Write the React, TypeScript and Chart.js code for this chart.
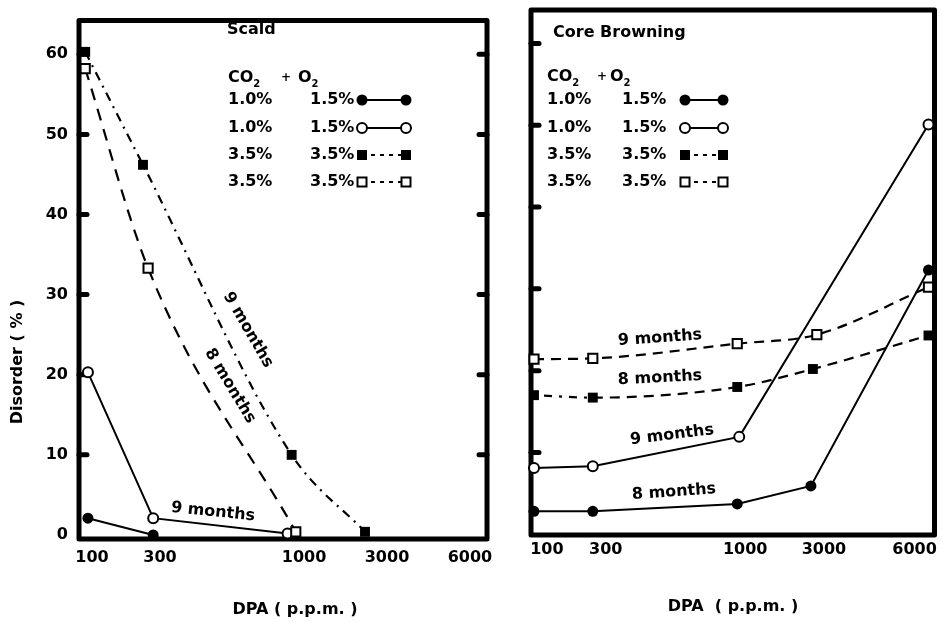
import React, { useEffect, useRef } from 'react';
import { Chart, registerables, LinearScale } from 'chart.js';

Chart.register(...registerables);

// ---------------- DATA ----------------
const DPA_TICKS = [100, 300, 1000, 3000, 6000];
const DISORDER_TICKS = [0, 10, 20, 30, 40, 50, 60];

// Scald panel (x = DPA p.p.m., y = disorder %)
const scaldFilledCircleX = [88, 280];
const scaldFilledCircleY = [2.1, 0.0];
const scaldOpenCircleX = [88, 280, 920];
const scaldOpenCircleY = [20.3, 2.1, 0.2];
const scaldFilledSquareX = [80, 250, 940, 2470];
const scaldFilledSquareY = [60.3, 46.2, 10.0, 0.4];
const scaldOpenSquareX = [80, 265, 960];
const scaldOpenSquareY = [58.2, 33.3, 0.4];

// Core browning panel
const coreFilledCircleX = [56, 256, 960, 2670, 6460];
const coreFilledCircleY = [2.8, 2.8, 3.7, 5.9, 32.3];
const coreOpenCircleX = [56, 256, 970, 6460];
const coreOpenCircleY = [8.1, 8.3, 11.9, 50.1];
const coreFilledSquareX = [56, 256, 960, 2720, 6460];
const coreFilledSquareY = [17.0, 16.7, 18.0, 20.2, 24.3];
const coreOpenSquareX = [56, 256, 960, 2820, 6460];
const coreOpenSquareY = [21.4, 21.5, 23.3, 24.4, 30.2];

const legendCO2 = ['1.0%', '1.0%', '3.5%', '3.5%'];
const legendO2 = ['1.5%', '1.5%', '3.5%', '3.5%'];
const legendKinds = ['fc', 'oc', 'fs', 'os'];

const FAM = "'DejaVu Sans', 'Liberation Sans', sans-serif";
const BLACK = '#000';

// ------------- custom piecewise DPA scale -------------
function makeAnchorScale(id: string, values: number[], fracs: number[]) {
  return class extends LinearScale {
    static id = id;
    static defaults = {};
    buildTicks() {
      (this as any).start = (this as any).min;
      (this as any).end = (this as any).max;
      return values.map((v) => ({ value: v }));
    }
    getPixelForValue(value: number) {
      const n = values.length;
      let i = 0;
      if (value >= values[n - 1]) i = n - 2;
      else if (value > values[0]) {
        while (value > values[i + 1]) i++;
      }
      const f = fracs[i] + ((value - values[i]) * (fracs[i + 1] - fracs[i])) / (values[i + 1] - values[i]);
      return (this as any).getPixelForDecimal(f);
    }
    getValueForPixel(pixel: number) {
      const f = (this as any).getDecimalForPixel(pixel);
      const n = fracs.length;
      let i = 0;
      if (f >= fracs[n - 1]) i = n - 2;
      else if (f > fracs[0]) {
        while (f > fracs[i + 1]) i++;
      }
      return values[i] + ((f - fracs[i]) * (values[i + 1] - values[i])) / (fracs[i + 1] - fracs[i]);
    }
  };
}

const ScaldScale = makeAnchorScale('dpaScald', DPA_TICKS, [0.0319, 0.1985, 0.5515, 0.7549, 0.9583]);
const CoreScale = makeAnchorScale('dpaCore', DPA_TICKS, [0.0395, 0.1852, 0.5309, 0.7259, 0.9506]);
Chart.register(ScaldScale as any, CoreScale as any);

// ------------- drawing helpers -------------
function drawMarker(ctx: CanvasRenderingContext2D, kind: string, x: number, y: number) {
  ctx.save();
  ctx.setLineDash([]);
  ctx.lineWidth = 2;
  ctx.strokeStyle = BLACK;
  ctx.fillStyle = BLACK;
  if (kind === 'fc') {
    ctx.beginPath();
    ctx.arc(x, y, 5.5, 0, Math.PI * 2);
    ctx.fill();
  } else if (kind === 'oc') {
    ctx.beginPath();
    ctx.arc(x, y, 5, 0, Math.PI * 2);
    ctx.fillStyle = '#fff';
    ctx.fill();
    ctx.stroke();
  } else if (kind === 'fs') {
    ctx.fillRect(x - 5, y - 5, 10, 10);
  } else {
    ctx.fillStyle = '#fff';
    ctx.fillRect(x - 4.5, y - 4.5, 9, 9);
    ctx.strokeRect(x - 4.5, y - 4.5, 9, 9);
  }
  ctx.restore();
}

function font(size: number) {
  return `bold ${size}px ${FAM}`;
}

function drawSub(ctx: CanvasRenderingContext2D, base: string, sub: string, x: number, y: number) {
  ctx.font = font(16);
  ctx.textAlign = 'left';
  ctx.textBaseline = 'middle';
  ctx.fillText(base, x, y);
  const w = ctx.measureText(base).width;
  ctx.font = font(10);
  ctx.fillText(sub, x + w, y + 6);
}

type LabelSpec = { t: string; x: number; y: number; r: number };
type PanelSpec = {
  title: string;
  titleDx: number;
  titleY: number;
  co2Dx: number;
  plusDx: number;
  o2Dx: number;
  headerY: number;
  col1Dx: number;
  col2Dx: number;
  lineDx1: number;
  lineDx2: number;
  rowY: number[];
  stubsRight: boolean;
  curveLabels: LabelSpec[];
  xTitle: string;
  xTitleX: number;
  xTitleY: number;
  yTitle?: { t: string; x: number; y: number };
};

function panelPlugin(spec: PanelSpec) {
  return {
    id: 'panelDecor',
    beforeDatasetsDraw(chart: any) {
      const { ctx, chartArea: a } = chart;
      const y = chart.scales.y;
      ctx.save();
      ctx.strokeStyle = BLACK;
      ctx.lineWidth = 5;
      ctx.lineJoin = 'round';
      ctx.strokeRect(a.left, a.top, a.right - a.left, a.bottom - a.top);
      ctx.lineCap = 'round';
      ctx.lineWidth = 5;
      for (const v of DISORDER_TICKS) {
        if (v === 0) continue;
        const py = y.getPixelForValue(v);
        ctx.beginPath();
        ctx.moveTo(a.left, py);
        ctx.lineTo(a.left + 8, py);
        ctx.stroke();
        if (spec.stubsRight) {
          ctx.beginPath();
          ctx.moveTo(a.right - 8, py);
          ctx.lineTo(a.right, py);
          ctx.stroke();
        }
      }
      ctx.restore();
    },
    afterDraw(chart: any) {
      const { ctx, chartArea: a } = chart;
      const L = a.left;
      ctx.save();
      ctx.fillStyle = BLACK;
      ctx.strokeStyle = BLACK;
      // title
      ctx.font = font(16);
      ctx.textAlign = 'left';
      ctx.textBaseline = 'middle';
      ctx.fillText(spec.title, L + spec.titleDx, spec.titleY);
      // header
      drawSub(ctx, 'CO', '2', L + spec.co2Dx, spec.headerY);
      ctx.font = font(12);
      ctx.textBaseline = 'middle';
      ctx.fillText('+', L + spec.plusDx, spec.headerY);
      drawSub(ctx, 'O', '2', L + spec.o2Dx, spec.headerY);
      // rows
      for (let i = 0; i < legendKinds.length; i++) {
        const ry = spec.rowY[i];
        ctx.font = font(16);
        ctx.textAlign = 'left';
        ctx.textBaseline = 'middle';
        ctx.fillText(legendCO2[i], L + spec.col1Dx, ry);
        ctx.fillText(legendO2[i], L + spec.col2Dx, ry);
        const k = legendKinds[i];
        ctx.save();
        ctx.lineWidth = 2;
        ctx.setLineDash(k === 'fs' || k === 'os' ? [4, 5] : []);
        ctx.beginPath();
        ctx.moveTo(L + spec.lineDx1, ry);
        ctx.lineTo(L + spec.lineDx2, ry);
        ctx.stroke();
        ctx.restore();
        drawMarker(ctx, k, L + spec.lineDx1, ry);
        drawMarker(ctx, k, L + spec.lineDx2, ry);
      }
      // curve labels
      for (const c of spec.curveLabels) {
        ctx.save();
        ctx.translate(c.x, c.y);
        ctx.rotate((c.r * Math.PI) / 180);
        ctx.font = font(16);
        ctx.textAlign = 'center';
        ctx.textBaseline = 'middle';
        ctx.fillText(c.t, 0, 0);
        ctx.restore();
      }
      // axis titles
      ctx.font = font(16);
      ctx.textAlign = 'center';
      ctx.textBaseline = 'middle';
      ctx.fillText(spec.xTitle, spec.xTitleX, spec.xTitleY);
      if (spec.yTitle) {
        ctx.save();
        ctx.translate(spec.yTitle.x, spec.yTitle.y);
        ctx.rotate(-Math.PI / 2);
        ctx.fillText(spec.yTitle.t, 0, 0);
        ctx.restore();
      }
      ctx.restore();
    },
  };
}

function pts(xs: number[], ys: number[]) {
  return xs.map((x, i) => ({ x, y: ys[i] }));
}

function series(kind: string, xs: number[], ys: number[], extra: any = {}) {
  const base: any = {
    data: pts(xs, ys),
    borderColor: BLACK,
    borderWidth: 2,
    pointBorderColor: BLACK,
    pointBorderWidth: 2,
    clip: false,
    tension: 0,
    fill: false,
  };
  if (kind === 'fc') {
    Object.assign(base, { pointStyle: 'circle', pointRadius: 5.5, pointBackgroundColor: BLACK, pointBorderWidth: 0 });
  } else if (kind === 'oc') {
    Object.assign(base, { pointStyle: 'circle', pointRadius: 5, pointBackgroundColor: '#fff' });
  } else if (kind === 'fs') {
    Object.assign(base, { pointStyle: 'rect', pointRadius: 7, pointBackgroundColor: BLACK, pointBorderWidth: 0 });
  } else {
    Object.assign(base, { pointStyle: 'rect', pointRadius: 6.5, pointBackgroundColor: '#fff' });
  }
  return Object.assign(base, extra);
}

function buildConfig(opts: {
  xType: string;
  datasets: any[];
  yMin: number;
  yMax: number;
  yWidth: number;
  xHeight: number;
  padRight: number;
  showYLabels: boolean;
  xPad: number;
  spec: PanelSpec;
}): any {
  return {
    type: 'line',
    data: { datasets: opts.datasets },
    options: {
      animation: false,
      responsive: false,
      events: [],
      layout: { padding: { top: 10, right: opts.padRight, left: 0, bottom: 0 } },
      plugins: { legend: { display: false }, tooltip: { enabled: false } },
      scales: {
        x: {
          type: opts.xType,
          position: 'bottom',
          grid: { display: false, drawTicks: false },
          border: { display: false },
          ticks: {
            autoSkip: false,
            maxRotation: 0,
            minRotation: 0,
            padding: opts.xPad,
            color: BLACK,
            font: { family: FAM, size: 16, weight: 'bold' },
            callback: (v: any) => String(v),
          },
          afterFit: (s: any) => {
            s.height = opts.xHeight;
          },
        },
        y: {
          type: 'linear',
          min: opts.yMin,
          max: opts.yMax,
          grid: { display: false, drawTicks: false },
          border: { display: false },
          ticks: {
            display: opts.showYLabels,
            padding: 11,
            color: BLACK,
            font: { family: FAM, size: 16, weight: 'bold' },
            callback: (v: any) => String(v),
          },
          afterBuildTicks: (s: any) => {
            s.ticks = DISORDER_TICKS.map((v) => ({ value: v }));
          },
          afterFit: (s: any) => {
            s.width = opts.yWidth;
          },
        },
      },
    },
    plugins: [panelPlugin(opts.spec)],
  };
}

const ROWS = [100, 128, 155, 182];

const leftSpec: PanelSpec = {
  title: 'Scald',
  titleDx: 148,
  titleY: 30,
  co2Dx: 149,
  plusDx: 202,
  o2Dx: 219,
  headerY: 78,
  col1Dx: 149,
  col2Dx: 231,
  lineDx1: 283,
  lineDx2: 327,
  rowY: ROWS,
  stubsRight: true,
  curveLabels: [
    { t: '9 months', x: 248, y: 330, r: 60 },
    { t: '8 months', x: 230, y: 386, r: 59 },
    { t: '9 months', x: 213, y: 512, r: 6 },
  ],
  xTitle: 'DPA ( p.p.m. )',
  xTitleX: 295,
  xTitleY: 610,
  yTitle: { t: 'Disorder ( % )', x: 18, y: 362 },
};

const RX = 505;
const rightSpec: PanelSpec = {
  title: 'Core Browning',
  titleDx: 22,
  titleY: 33,
  co2Dx: 16,
  plusDx: 66,
  o2Dx: 79,
  headerY: 77,
  col1Dx: 16,
  col2Dx: 91,
  lineDx1: 154,
  lineDx2: 192,
  rowY: ROWS,
  stubsRight: false,
  curveLabels: [
    { t: '9 months', x: 660 - RX, y: 338, r: -4 },
    { t: '8 months', x: 660 - RX, y: 378, r: -3 },
    { t: '9 months', x: 672 - RX, y: 435, r: -7 },
    { t: '8 months', x: 674 - RX, y: 492, r: -4 },
  ],
  xTitle: 'DPA  ( p.p.m. )',
  xTitleX: 733 - RX,
  xTitleY: 607,
};

export default function App() {
  const leftRef = useRef<HTMLCanvasElement>(null);
  const rightRef = useRef<HTMLCanvasElement>(null);

  useEffect(() => {
    const left = new Chart(
      leftRef.current as HTMLCanvasElement,
      buildConfig({
        xType: 'dpaScald',
        datasets: [
          series('fs', scaldFilledSquareX, scaldFilledSquareY, {
            borderWidth: 2.2,
            borderDash: [9, 6, 2, 6],
            cubicInterpolationMode: 'monotone',
          }),
          series('os', scaldOpenSquareX, scaldOpenSquareY, {
            borderWidth: 2.2,
            borderDash: [12, 9],
            cubicInterpolationMode: 'monotone',
          }),
          series('oc', scaldOpenCircleX, scaldOpenCircleY),
          series('fc', scaldFilledCircleX, scaldFilledCircleY),
        ],
        yMin: -0.5,
        yMax: 64.2,
        yWidth: 79,
        xHeight: 83,
        padRight: 18,
        showYLabels: true,
        xPad: 9,
        spec: leftSpec,
      })
    );
    const right = new Chart(
      rightRef.current as HTMLCanvasElement,
      buildConfig({
        xType: 'dpaCore',
        datasets: [
          series('os', coreOpenSquareX, coreOpenSquareY, {
            borderWidth: 2.2,
            borderDash: [10, 7],
            cubicInterpolationMode: 'monotone',
          }),
          series('fs', coreFilledSquareX, coreFilledSquareY, {
            borderWidth: 2.2,
            borderDash: [10, 7],
            cubicInterpolationMode: 'monotone',
            segment: {
              borderDash: (c: any) => (c.p0DataIndex === 0 ? [3, 7, 8, 7] : undefined),
            },
          }),
          series('oc', coreOpenCircleX, coreOpenCircleY),
          series('fc', coreFilledCircleX, coreFilledCircleY),
        ],
        yMin: -0.1,
        yMax: 64.1,
        yWidth: 26,
        xHeight: 87,
        padRight: 7,
        showYLabels: false,
        xPad: 5,
        spec: rightSpec,
      })
    );
    return () => {
      left.destroy();
      right.destroy();
    };
  }, []);

  return (
    <div style={{ position: 'fixed', left: 0, top: 0, width: 943, height: 622, background: '#fff' }}>
      <canvas ref={leftRef} width={505} height={622} style={{ position: 'absolute', left: 0, top: 0 }} />
      <canvas ref={rightRef} width={438} height={622} style={{ position: 'absolute', left: RX, top: 0 }} />
    </div>
  );
}
